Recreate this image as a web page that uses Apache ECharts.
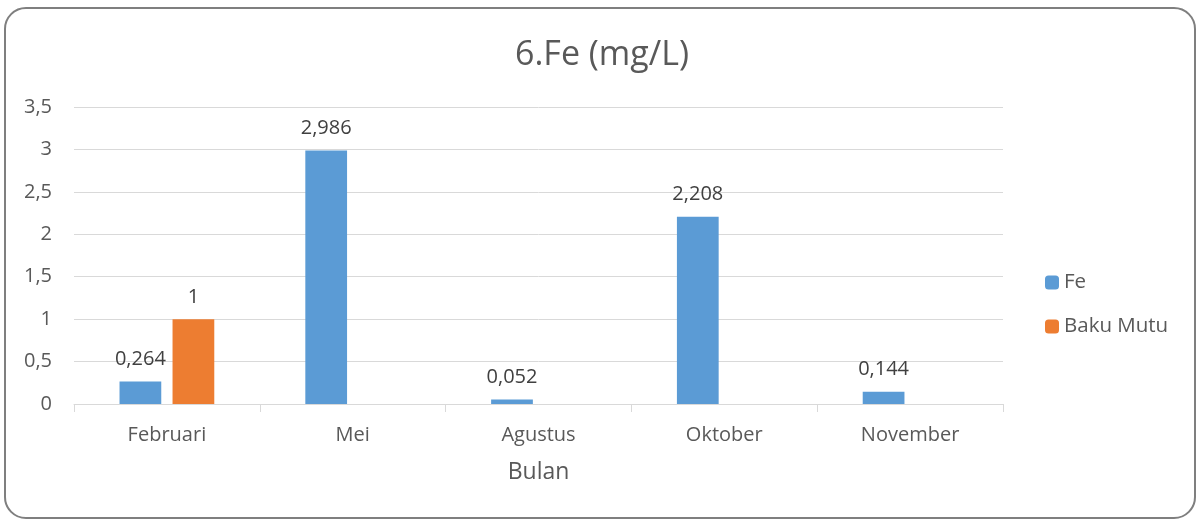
<!DOCTYPE html>
<html>
<head>
<meta charset="utf-8">
<script src="https://cdn.jsdelivr.net/npm/echarts@6/dist/echarts.min.js"></script>
<style>
  html, body { margin: 0; padding: 0; background: #fff; }
  #box {
    position: absolute; left: 4px; top: 7px; width: 1188px; height: 508px;
    border: 2px solid #7f7f7f; border-radius: 22px; overflow: hidden;
  }
  #chart { position: absolute; left: -6px; top: -9px; width: 1198px; height: 522px; }
</style>
</head>
<body>
<div id="box"><div id="chart"></div></div>
<script>
// data
const months = ['Februari', 'Mei', 'Agustus', 'Oktober', 'November']
const feValues = [0.264, 2.986, 0.052, 2.208, 0.144]
const bakuMutu = [1, null, null, null, null]

const fmt = v => String(v).replace('.', ',')
const font = '"Open Sans", sans-serif'

const chart = echarts.init(document.getElementById('chart'))

const option = {
  animation: false,
  textStyle: { fontFamily: font },
  title: {
    text: '6.Fe (mg/L)',
    left: 597, top: 33, textAlign: 'center',
    textStyle: { color: '#595959', fontSize: 34, fontWeight: 'normal', fontFamily: font }
  },
  legend: {
    orient: 'vertical', left: 1040, top: 267,
    itemWidth: 14, itemHeight: 14, itemGap: 23,
    textStyle: { color: '#595959', fontSize: 20.5, fontFamily: font },
    data: ['Fe', 'Baku Mutu']
  },
  grid: { left: 74, right: 195, top: 107, bottom: 118 },
  xAxis: {
    type: 'category',
    data: months,
    name: 'Bulan',
    nameLocation: 'middle',
    nameGap: 57,
    nameTextStyle: { color: '#595959', fontSize: 23 },
    axisLine: { lineStyle: { color: '#d9d9d9', width: 1 } },
    axisTick: { show: true, length: 8, lineStyle: { color: '#d9d9d9' } },
    axisLabel: { color: '#595959', fontSize: 20, margin: 21 }
  },
  yAxis: {
    type: 'value',
    min: 0, max: 3.5, interval: 0.5,
    axisLine: { show: false },
    axisTick: { show: false },
    axisLabel: { color: '#595959', fontSize: 20, margin: 22, formatter: fmt },
    splitLine: { lineStyle: { color: '#d9d9d9', width: 1 } }
  },
  series: [
    {
      name: 'Fe', type: 'bar', data: feValues,
      barGap: '27%', barCategoryGap: '49%',
      itemStyle: { color: '#5b9bd5' },
      label: { show: true, position: 'top', distance: 12, color: '#404040', fontSize: 20, formatter: p => fmt(p.value) }
    },
    {
      name: 'Baku Mutu', type: 'bar', data: bakuMutu,
      itemStyle: { color: '#ed7d31' },
      label: { show: true, position: 'top', distance: 12, color: '#404040', fontSize: 20, formatter: p => fmt(p.value) }
    }
  ]
}

chart.setOption(option)
</script>
</body>
</html>
